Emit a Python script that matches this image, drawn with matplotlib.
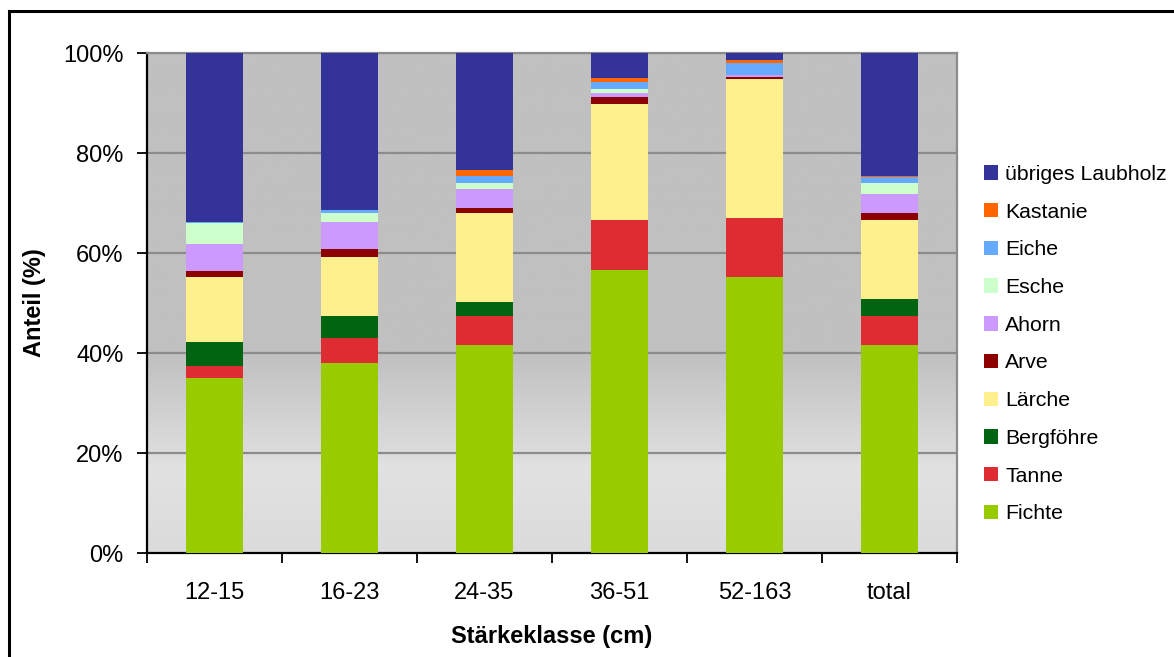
import numpy as np
import matplotlib
matplotlib.use("Agg")
import matplotlib.pyplot as plt
from matplotlib.patches import Rectangle

plt.rcParams['font.family'] = ['Liberation Sans', 'DejaVu Sans']

# Diameter classes and species shares (%) per class
classes = ["12-15", "16-23", "24-35", "36-51", "52-163", "total"]
species = ["Fichte", "Tanne", "Bergföhre", "Lärche", "Arve",
           "Ahorn", "Esche", "Eiche", "Kastanie", "übriges Laubholz"]

fichte    = [35.0, 38.0, 41.6, 56.6, 55.2, 41.6]
tanne     = [2.4, 5.0, 5.8, 10.0, 11.8, 5.8]
bergfoehre = [4.8, 4.4, 2.8, 0.0, 0.0, 3.4]
laerche   = [13.0, 11.8, 17.8, 23.2, 27.8, 15.8]
arve      = [1.2, 1.6, 1.0, 1.4, 0.4, 1.4]
ahorn     = [5.4, 5.4, 3.8, 0.8, 0.4, 3.8]
esche     = [4.2, 1.8, 1.2, 0.8, 0.0, 2.2]
eiche     = [0.3, 0.6, 1.4, 1.4, 2.4, 1.2]
kastanie  = [0.0, 0.0, 1.2, 0.8, 0.6, 0.2]
uebriges  = [33.7, 31.4, 23.4, 5.0, 1.4, 24.6]

series = [fichte, tanne, bergfoehre, laerche, arve,
          ahorn, esche, eiche, kastanie, uebriges]
colors = ["#99CC00", "#DD2D33", "#006411", "#FEF18D", "#8C0000",
          "#CC99FF", "#CCFFCC", "#66AAFF", "#FF6600", "#333399"]

W, H = 1174, 657
fig = plt.figure(figsize=(W / 100, H / 100), dpi=100)
fig.patch.set_facecolor("white")

# outer frame of the chart area
fig.add_artist(Rectangle((9 / W, -0.2), 1.2, 1.2 - 11 / H, transform=fig.transFigure,
                         fill=False, edgecolor="black", linewidth=2.2, clip_on=False))

ax = fig.add_axes([147 / W, 1 - 553 / H, (957 - 147) / W, (553 - 53) / H])

# plot-area fill: flat grey at the top, lightening towards the bottom
yy = np.linspace(0, 100, 501)
shade = np.where(yy >= 40, 0xC0,
         np.where(yy >= 18, 0xC0 + (40 - yy) / 22 * (0xDF - 0xC0),
                  0xE2 - (18 - yy) / 18 * (0xE2 - 0xDB)))
shade = shade / 255.0
img = np.repeat(shade[::-1, None], 2, axis=1)
ax.imshow(np.dstack([img, img, img]), extent=[-0.5, 5.5, 0, 100],
          aspect="auto", zorder=0, interpolation="bilinear")

x = np.arange(len(classes))
bottom = np.zeros(len(classes))
handles = []
for name, vals, col in zip(species, series, colors):
    b = ax.bar(x, vals, width=0.415, bottom=bottom, color=col,
               edgecolor="none", label=name, zorder=3)
    handles.append(b)
    bottom += np.array(vals)

ax.set_xlim(-0.5, 5.5)
ax.set_ylim(0, 100)

for yv in [20, 40, 60, 80, 100]:
    ax.axhline(yv, color="#8C8C8C", linewidth=1.6, zorder=1)

ax.set_yticks([0, 20, 40, 60, 80, 100])
ax.set_yticklabels([f"{v}%" for v in [0, 20, 40, 60, 80, 100]])
ax.set_xticks(x)
ax.set_xticklabels(classes)
ax.set_xticks(np.arange(-0.5, 6.0, 1.0), minor=True)
ax.tick_params(axis="x", which="major", length=0, pad=21, labelsize=17)
ax.tick_params(axis="x", which="minor", length=7, width=1.3, direction="out", color="black")
ax.tick_params(axis="y", which="major", length=7, width=1.3, direction="out",
               pad=10, labelsize=17, color="black")

for side in ["left", "bottom"]:
    ax.spines[side].set_color("black")
    ax.spines[side].set_linewidth(1.6)
for side in ["top", "right"]:
    ax.spines[side].set_color("#8C8C8C")
    ax.spines[side].set_linewidth(1.6)

ax.set_xlabel("Stärkeklasse (cm)", fontsize=17, fontweight="bold", labelpad=15)
ax.set_ylabel("Anteil (%)", fontsize=17, fontweight="bold", labelpad=12)

leg = ax.legend(handles[::-1], species[::-1], loc="upper left",
                bbox_to_anchor=(984 / W, 1 - 165 / H), bbox_transform=fig.transFigure,
                frameon=False, fontsize=15.3, handlelength=0.66, handleheight=0.66,
                handletextpad=0.33, labelspacing=0.88, borderpad=0, borderaxespad=0)

fig.savefig("out.png", dpi=100, facecolor="white")
